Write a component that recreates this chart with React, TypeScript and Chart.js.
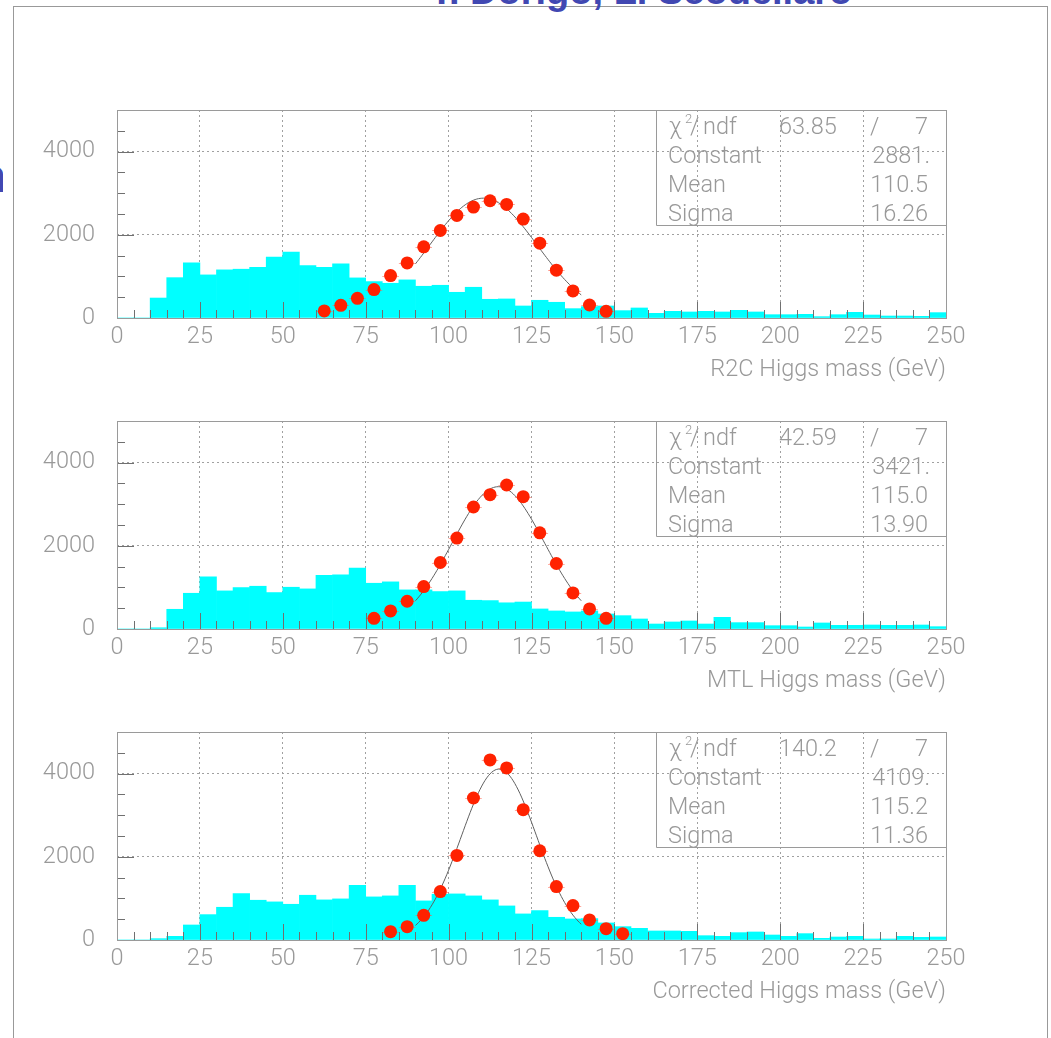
import React, { useEffect, useRef } from "react";
import { Chart, registerables } from "chart.js";

Chart.register(...registerables);

// ---------- data ----------
const binWidth = 5;
const xTickValues = [0, 25, 50, 75, 100, 125, 150, 175, 200, 225, 250];
const yTickValues = [0, 2000, 4000];
const xMax = 250;
const yMax = 5000;

const axisTitles = ["R2C Higgs mass (GeV)", "MTL Higgs mass (GeV)", "Corrected Higgs mass (GeV)"];

// background histograms, 50 bins of 5 GeV from 0 to 250
const r2cHist = [0, 0, 480, 970, 1325, 1036, 1157, 1173, 1221, 1462, 1582, 1261, 1221, 1301, 964, 875, 835, 916, 763, 787, 618, 739, 450, 458, 289, 426, 378, 225, 273, 289, 177, 241, 112, 161, 145, 161, 145, 185, 145, 80, 80, 88, 32, 80, 137, 72, 48, 48, 40, 129];
const mtlHist = [0, 0, 30, 474, 859, 1253, 916, 996, 1028, 876, 1004, 964, 1293, 1301, 1462, 1100, 1133, 940, 940, 900, 916, 691, 683, 630, 648, 482, 434, 410, 434, 361, 321, 241, 120, 169, 193, 120, 281, 153, 153, 80, 80, 48, 145, 88, 88, 96, 88, 88, 96, 56];
const correctedHist = [0, 0, 32, 88, 361, 610, 787, 1116, 956, 916, 859, 1076, 964, 988, 1317, 1036, 1060, 1317, 940, 1100, 1108, 1060, 964, 819, 627, 707, 546, 506, 514, 410, 321, 281, 217, 217, 209, 104, 88, 177, 193, 120, 88, 153, 40, 72, 88, 24, 24, 88, 64, 72];

// signal points
const r2cPointX = [62.5, 67.5, 72.5, 77.5, 82.5, 87.5, 92.5, 97.5, 102.5, 107.5, 112.5, 117.5, 122.5, 127.5, 132.5, 137.5, 142.5, 147.5];
const r2cPointY = [169, 305, 474, 683, 1020, 1325, 1711, 2104, 2466, 2667, 2819, 2731, 2378, 1799, 1149, 651, 313, 161];
const mtlPointX = [77.5, 82.5, 87.5, 92.5, 97.5, 102.5, 107.5, 112.5, 117.5, 122.5, 127.5, 132.5, 137.5, 142.5, 147.5];
const mtlPointY = [257, 434, 667, 1020, 1598, 2185, 2932, 3229, 3462, 3181, 2313, 1574, 867, 482, 257];
const correctedPointX = [82.5, 87.5, 92.5, 97.5, 102.5, 107.5, 112.5, 117.5, 122.5, 127.5, 132.5, 137.5, 142.5, 147.5, 152.5];
const correctedPointY = [201, 321, 594, 1165, 2032, 3414, 4329, 4137, 3133, 2145, 1285, 827, 482, 273, 153];

// gaussian fit results
const fitConstant = [2881, 3421, 4109];
const fitMean = [110.5, 115.0, 115.2];
const fitSigma = [16.26, 13.9, 11.36];
const fitChi2Labels = ["63.85", "42.59", "140.2"];
const fitNdf = [7, 7, 7];
const fitConstantLabels = ["2881.", "3421.", "4109."];
const fitMeanLabels = ["110.5", "115.0", "115.2"];
const fitSigmaLabels = ["16.26", "13.90", "11.36"];
const fitRange = [90, 140];

const hists = [r2cHist, mtlHist, correctedHist];
const pointXs = [r2cPointX, mtlPointX, correctedPointX];
const pointYs = [r2cPointY, mtlPointY, correctedPointY];

// ---------- styles ----------
const FONT = "Roboto";
const FONT_SIZE = 23.5;
const TEXT_COLOR = "#999999";
const GRID_COLOR = "#a0a0a0";
const FRAME_COLOR = "#9a9a9a";

function gaussCurve(i: number) {
  const pts: { x: number; y: number }[] = [];
  for (let x = fitRange[0]; x <= fitRange[1] + 1e-9; x += 0.5) {
    const z = (x - fitMean[i]) / fitSigma[i];
    pts.push({ x, y: fitConstant[i] * Math.exp(-0.5 * z * z) });
  }
  return pts;
}

const panelPlugin = {
  id: "panelDecor",
  beforeDatasetDraw(chart: any, args: any) {
    if (args.index !== 2) return;
    const { ctx } = chart;
    const xs = chart.scales.x;
    const ys = chart.scales.y;
    const data = chart.data.datasets[2].data as { x: number; y: number }[];
    ctx.save();
    ctx.strokeStyle = "rgba(255,100,80,0.55)";
    ctx.lineWidth = 1;
    ctx.beginPath();
    data.forEach((p) => {
      const py = Math.round(ys.getPixelForValue(p.y)) + 0.5;
      ctx.moveTo(xs.getPixelForValue(p.x - binWidth / 2), py);
      ctx.lineTo(xs.getPixelForValue(p.x + binWidth / 2), py);
    });
    ctx.stroke();
    ctx.restore();
  },
  afterDatasetsDraw(chart: any, _args: any, opts: any) {
    const { ctx } = chart;
    const a = chart.chartArea;
    const xs = chart.scales.x;
    const ys = chart.scales.y;
    ctx.save();
    // inward tick marks
    ctx.strokeStyle = "#707070";
    ctx.lineWidth = 1;
    ctx.beginPath();
    for (let v = 0; v <= xMax; v += binWidth) {
      const px = Math.round(xs.getPixelForValue(v)) + 0.5;
      const len = v % 25 === 0 ? 16 : 8;
      ctx.moveTo(px, a.bottom);
      ctx.lineTo(px, a.bottom - len);
    }
    for (let v = 0; v <= yMax; v += 500) {
      const py = Math.round(ys.getPixelForValue(v)) + 0.5;
      const len = v % 2000 === 0 ? 17 : 8;
      ctx.moveTo(a.left, py);
      ctx.lineTo(a.left + len, py);
    }
    ctx.stroke();
    // frame
    ctx.strokeStyle = FRAME_COLOR;
    ctx.strokeRect(Math.round(a.left) + 0.5, Math.round(a.top) + 0.5, Math.round(a.right - a.left), Math.round(a.bottom - a.top));

    // stats box
    const bx = Math.round(a.right) - 290;
    const by = Math.round(a.top);
    const bh = 115;
    ctx.beginPath();
    ctx.moveTo(bx + 0.5, by);
    ctx.lineTo(bx + 0.5, by + bh + 0.5);
    ctx.lineTo(a.right, by + bh + 0.5);
    ctx.stroke();

    const rows = [24, 53, 82, 111];
    ctx.fillStyle = TEXT_COLOR;
    ctx.textBaseline = "alphabetic";
    ctx.textAlign = "left";
    ctx.font = `300 ${FONT_SIZE}px ${FONT}`;
    ctx.fillText("\u03c7", bx + 13, by + rows[0]);
    ctx.fillText("/", bx + 34, by + rows[0]);
    ctx.fillText("ndf", bx + 47, by + rows[0]);
    ctx.fillText(opts.chi2, bx + 123, by + rows[0]);
    ctx.fillText("/", bx + 214, by + rows[0]);
    ctx.fillText("Constant", bx + 12, by + rows[1]);
    ctx.fillText("Mean", bx + 12, by + rows[2]);
    ctx.fillText("Sigma", bx + 12, by + rows[3]);
    ctx.textAlign = "right";
    ctx.fillText(String(opts.ndf), bx + 272, by + rows[0]);
    ctx.fillText(opts.constant, bx + 274, by + rows[1]);
    ctx.fillText(opts.mean, bx + 272, by + rows[2]);
    ctx.fillText(opts.sigma, bx + 272, by + rows[3]);
    ctx.textAlign = "left";
    ctx.font = `300 13px ${FONT}`;
    ctx.fillText("2", bx + 29, by + rows[0] - 11);
    ctx.restore();
  },
};

function Panel({ index, top }: { index: number; top: number }) {
  const ref = useRef<HTMLCanvasElement>(null);
  useEffect(() => {
    const canvas = ref.current;
    if (!canvas) return;
    const hist = hists[index];
    const barData = hist.map((v, i) => ({ x: i * binWidth + binWidth / 2, y: v }));
    const pts = pointXs[index].map((x, i) => ({ x, y: pointYs[index][i] }));
    const tickFont = { family: FONT, size: FONT_SIZE, weight: 300 as any };
    const chart = new Chart(canvas, {
      type: "bar",
      data: {
        datasets: [
          {
            type: "bar",
            data: barData as any,
            backgroundColor: "#00ffff",
            borderWidth: 0,
            barPercentage: 1,
            categoryPercentage: 1,
            grouped: false,
            order: 3,
          } as any,
          {
            type: "line",
            data: gaussCurve(index) as any,
            borderColor: "#606060",
            borderWidth: 1,
            pointRadius: 0,
            tension: 0,
            fill: false,
            order: 2,
          } as any,
          {
            type: "scatter",
            data: pts as any,
            backgroundColor: "#ff2200",
            borderWidth: 0,
            pointRadius: 6.5,
            order: 1,
          } as any,
        ],
      },
      options: {
        responsive: false,
        animation: false,
        devicePixelRatio: 1,
        layout: { padding: { left: 0, right: 105, top: 30, bottom: 0 } },
        plugins: {
          legend: { display: false },
          tooltip: { enabled: false },
          panelDecor: {
            chi2: fitChi2Labels[index],
            ndf: fitNdf[index],
            constant: fitConstantLabels[index],
            mean: fitMeanLabels[index],
            sigma: fitSigmaLabels[index],
          },
        } as any,
        scales: {
          x: {
            type: "linear",
            min: 0,
            max: xMax,
            offset: false,
            afterBuildTicks: (s: any) => {
              s.ticks = xTickValues.map((v) => ({ value: v }));
            },
            afterFit: (s: any) => {
              s.height = 72;
              s.paddingLeft = 0;
              s.paddingRight = 0;
            },
            ticks: {
              color: TEXT_COLOR,
              font: tickFont,
              padding: 5,
              maxRotation: 0,
              autoSkip: false,
              callback: (v: any) => String(v),
            },
            grid: {
              offset: false,
              drawTicks: false,
              color: (c: any) =>
                c.tick && (c.tick.value === 0 || c.tick.value === xMax) ? "rgba(0,0,0,0)" : GRID_COLOR,
              lineWidth: 1,
            },
            border: { display: false, dash: [2, 3] },
            title: {
              display: true,
              text: axisTitles[index],
              align: "end",
              color: TEXT_COLOR,
              font: tickFont,
              padding: { top: 0, bottom: 6 },
            },
          } as any,
          y: {
            type: "linear",
            min: 0,
            max: yMax,
            afterBuildTicks: (s: any) => {
              s.ticks = yTickValues.map((v) => ({ value: v }));
            },
            afterFit: (s: any) => {
              s.width = 117;
              s.paddingTop = 0;
              s.paddingBottom = 0;
            },
            ticks: {
              color: TEXT_COLOR,
              font: tickFont,
              padding: 22,
              callback: (v: any) => String(v),
            },
            grid: {
              drawTicks: false,
              color: (c: any) => (c.tick && c.tick.value === 0 ? "rgba(0,0,0,0)" : GRID_COLOR),
              lineWidth: 1,
            },
            border: { display: false, dash: [2, 3] },
          } as any,
        },
      },
      plugins: [panelPlugin as any],
    });
    return () => chart.destroy();
  }, [index]);
  return (
    <canvas
      ref={ref}
      width={1051}
      height={310}
      style={{ position: "absolute", left: 0, top, width: 1051, height: 310, display: "block" }}
    />
  );
}

export default function App() {
  return (
    <div
      style={{
        position: "absolute",
        left: 0,
        top: 0,
        width: 1051,
        height: 1038,
        overflow: "hidden",
        background: "#ffffff",
      }}
    >
      <div
        style={{
          position: "absolute",
          left: 13,
          top: 6,
          width: 1035,
          height: 1100,
          boxSizing: "border-box",
          border: "1px solid #999999",
        }}
      />
      <div
        style={{
          position: "absolute",
          left: 430,
          top: -28,
          font: "bold 38px 'Liberation Sans', Arial, sans-serif",
          lineHeight: "38px",
          color: "#4148b2",
          whiteSpace: "nowrap",
        }}
      >
        T. Dorigo, L. Scodellaro
      </div>
      <div style={{ position: "absolute", left: 0, top: 150, width: 3, height: 50, overflow: "hidden" }}>
        <div
          style={{
            position: "absolute",
            left: -22,
            top: 3,
            font: "bold 46px 'Liberation Sans', Arial, sans-serif",
            lineHeight: "46px",
            color: "#4148b2",
          }}
        >
          n
        </div>
      </div>
      {[0, 1, 2].map((i) => (
        <Panel key={i} index={i} top={80 + 311 * i} />
      ))}
    </div>
  );
}
